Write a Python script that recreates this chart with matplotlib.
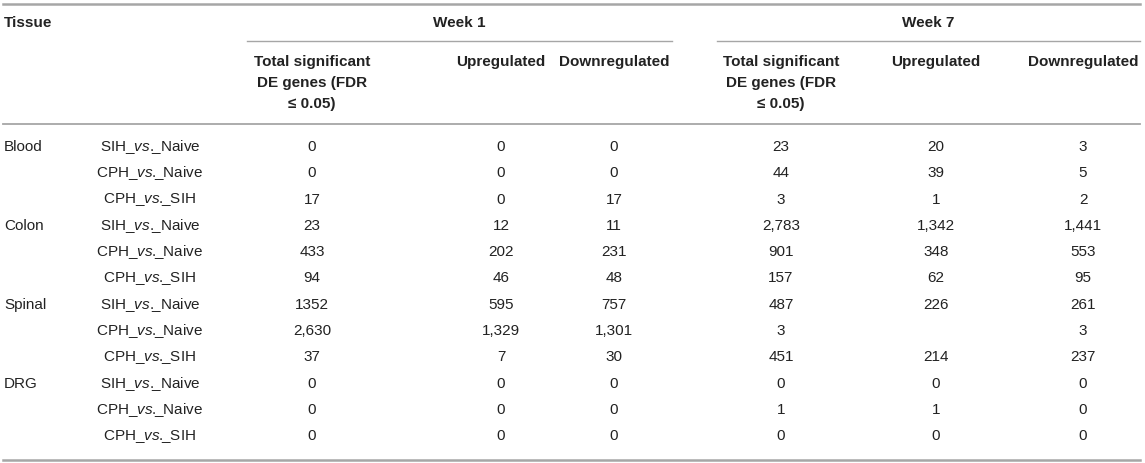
import matplotlib.pyplot as plt

plt.rcParams['font.family'] = ['Liberation Sans', 'DejaVu Sans']
plt.rcParams['mathtext.fontset'] = 'custom'
plt.rcParams['mathtext.it'] = 'Liberation Sans:italic'
plt.rcParams['mathtext.rm'] = 'Liberation Sans'

# table content
tissues = ["Blood", "Colon", "Spinal", "DRG"]
comparisons = ["SIH_vs._Naive", "CPH_vs._Naive", "CPH_vs._SIH"]
weeks = ["Week 1", "Week 7"]
col_headers = ["Total significant\nDE genes (FDR\n≤ 0.05)", "Upregulated", "Downregulated"]

w1_total = ["0", "0", "17", "23", "433", "94", "1352", "2,630", "37", "0", "0", "0"]
w1_up = ["0", "0", "0", "12", "202", "46", "595", "1,329", "7", "0", "0", "0"]
w1_down = ["0", "0", "17", "11", "231", "48", "757", "1,301", "30", "0", "0", "0"]
w7_total = ["23", "44", "3", "2,783", "901", "157", "487", "3", "451", "0", "1", "0"]
w7_up = ["20", "39", "1", "1,342", "348", "62", "226", "", "214", "0", "1", "0"]
w7_down = ["3", "5", "2", "1,441", "553", "95", "261", "3", "237", "0", "0", "0"]

W, H = 1145, 463
fig = plt.figure(figsize=(W / 100, H / 100), dpi=100)
ax = fig.add_axes([0, 0, 1, 1])
ax.set_xlim(0, W)
ax.set_ylim(H, 0)
ax.axis('off')

txt = '#222222'
rule = '#a6a6a6'
fs = 11.0

col_x = [312, 501, 614, 781, 936, 1083]
week_span = [(247, 672), (717, 1140)]
row_y0, row_dy = 147, 26.3

# rules
ax.plot([3, 1140], [4, 4], color=rule, lw=1.8)
ax.plot([3, 1140], [124, 124], color=rule, lw=1.3)
ax.plot([3, 1140], [460, 460], color=rule, lw=1.8)
for (a, b) in week_span:
    ax.plot([a, b], [41, 41], color=rule, lw=1.0)

# header
ax.text(4, 23, "Tissue", ha='left', va='center', fontsize=fs, fontweight='bold', color=txt)
for wk, (a, b) in zip(weeks, week_span):
    ax.text((a + b) / 2, 23, wk, ha='center', va='center', fontsize=fs, fontweight='bold', color=txt)
for k, x in enumerate(col_x):
    ax.text(x, 55, col_headers[k % 3], ha='center', va='top', fontsize=fs,
            fontweight='bold', color=txt, linespacing=1.62)

# body
columns = [w1_total, w1_up, w1_down, w7_total, w7_up, w7_down]
for i in range(len(w1_total)):
    y = row_y0 + i * row_dy
    if i % 3 == 0:
        ax.text(4, y, tissues[i // 3], ha='left', va='center', fontsize=fs, color=txt)
    a, b = comparisons[i % 3].split("_vs._")
    label = r"$\mathrm{" + a + r"\_}\mathit{vs.}\!\!\mathrm{\_" + b + "}$"
    ax.text(150, y, label, ha='center', va='center', fontsize=fs, color=txt)
    for x, col in zip(col_x, columns):
        ax.text(x, y, col[i], ha='center', va='center', fontsize=fs, color=txt)

fig.savefig("out.png", dpi=100)
